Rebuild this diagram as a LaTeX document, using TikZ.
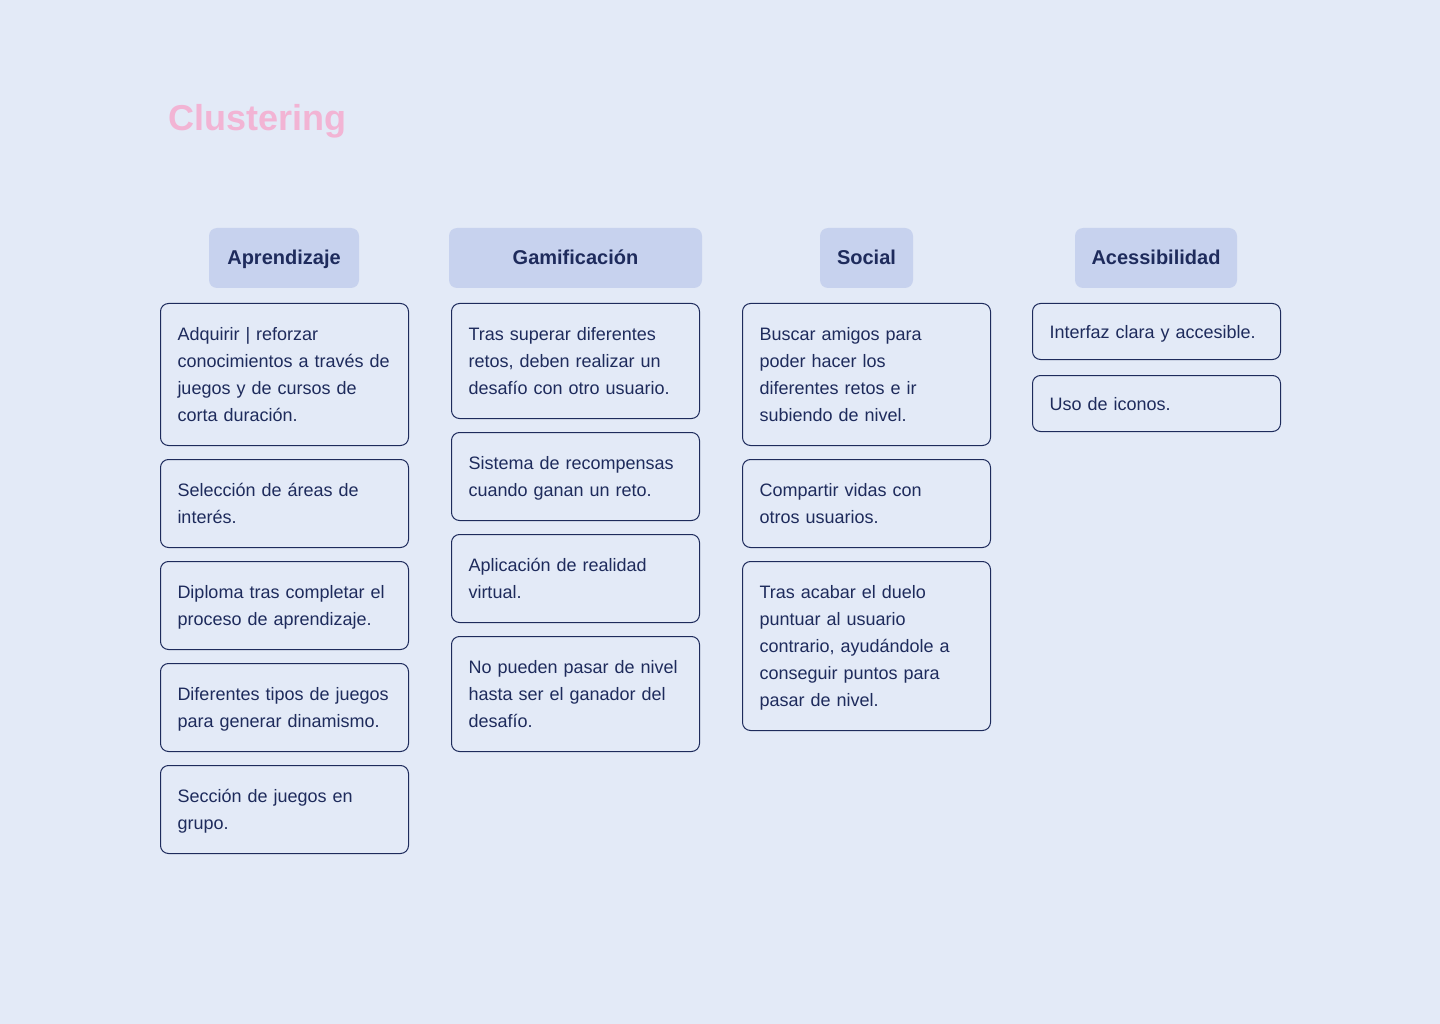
\documentclass[tikz,border=0pt]{standalone}
\usepackage{fontspec}
\setmainfont{Liberation Sans}
\definecolor{bg}{HTML}{E3EAF7}
\definecolor{navy}{HTML}{1E2B5C}
\definecolor{hdr}{HTML}{C7D2EE}
\definecolor{pinktitle}{HTML}{F2B4D4}
\newcommand{\cardstrut}{\rule[-7pt]{0pt}{27pt}}
\begin{document}
\begin{tikzpicture}[x=1pt,y=-1pt,
  card/.style={draw=navy, line width=1pt, rounded corners=8pt, anchor=north west,
    text width=214pt, inner xsep=17pt, inner ysep=0pt, align=left,
    font=\fontsize{18}{27}\selectfont, text=navy,
    execute at begin node=\cardstrut, execute at end node=\cardstrut},
  header/.style={fill=hdr, rounded corners=8pt, minimum height=60pt, inner sep=0pt,
    text height=13.5pt, text depth=0pt,
    font=\fontsize{20}{24}\selectfont\bfseries, text=navy},
  titlestyle/.style={anchor=base west, inner sep=0pt, text=pinktitle,
    font=\fontsize{36}{40}\selectfont\bfseries}]
\fill[bg] (0,0) rectangle (1440,1024);
\useasboundingbox (0,0) rectangle (1440,1024);

\node[titlestyle] (title) at (168,131) {Clustering};

% headers
\node[header, minimum width=150pt] (ha) at (284,258) {Aprendizaje};
\node[header, minimum width=253pt] (hg) at (575.5,258) {Gamificación};
\node[header, minimum width=93pt] (hs) at (866.5,258) {Social};
\node[header, minimum width=162pt] (hc) at (1156,258) {Acessibilidad};

% Aprendizaje
\node[card, minimum height=142pt] (a1) at (160,303) {Adquirir | reforzar\\conocimientos a través de\\juegos y de cursos de\\corta duración.};
\node[card, minimum height=88pt] (a2) at (160,459) {Selección de áreas de\\interés.};
\node[card, minimum height=88pt] (a3) at (160,561) {Diploma tras completar el\\proceso de aprendizaje.};
\node[card, minimum height=88pt] (a4) at (160,663) {Diferentes tipos de juegos\\para generar dinamismo.};
\node[card, minimum height=88pt] (a5) at (160,765) {Sección de juegos en\\grupo.};

% Gamificacion
\node[card, minimum height=115pt] (g1) at (451,303) {Tras superar diferentes\\retos, deben realizar un\\desafío con otro usuario.};
\node[card, minimum height=88pt] (g2) at (451,432) {Sistema de recompensas\\cuando ganan un reto.};
\node[card, minimum height=88pt] (g3) at (451,534) {Aplicación de realidad\\virtual.};
\node[card, minimum height=115pt] (g4) at (451,636) {No pueden pasar de nivel\\hasta ser el ganador del\\desafío.};

% Social
\node[card, minimum height=142pt] (s1) at (742,303) {Buscar amigos para\\poder hacer los\\diferentes retos e ir\\subiendo de nivel.};
\node[card, minimum height=88pt] (s2) at (742,459) {Compartir vidas con\\otros usuarios.};
\node[card, minimum height=169pt] (s3) at (742,561) {Tras acabar el duelo\\puntuar al usuario\\contrario, ayudándole a\\conseguir puntos para\\pasar de nivel.};

% Acessibilidad
\node[card, minimum height=56pt] (c1) at (1032,303) {Interfaz clara y accesible.};
\node[card, minimum height=56pt] (c2) at (1032,375) {Uso de iconos.};
\end{tikzpicture}
\end{document}
